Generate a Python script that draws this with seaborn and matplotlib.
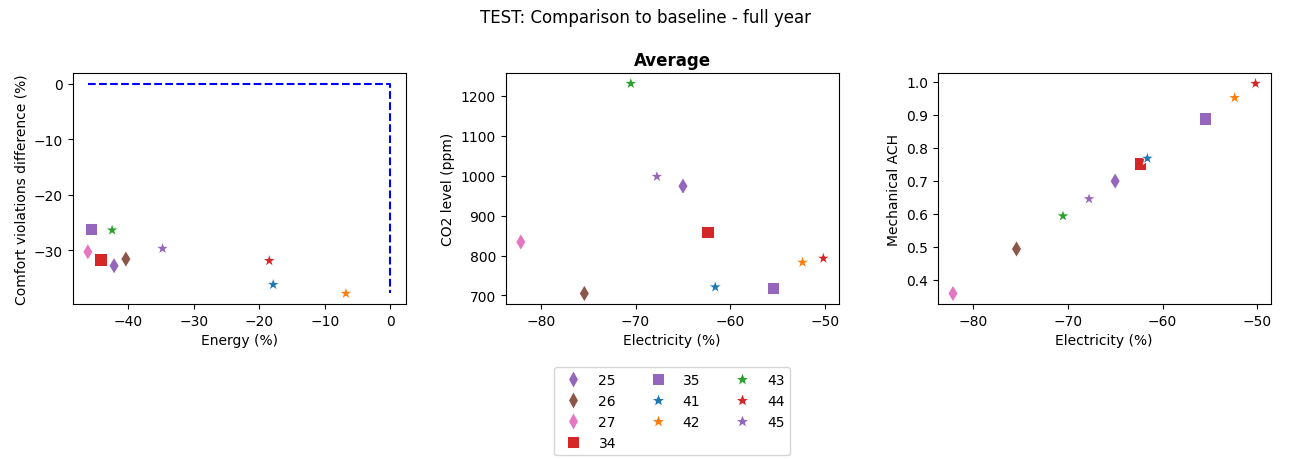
import numpy as np
import pandas as pd
import matplotlib
matplotlib.use("Agg")
import matplotlib.pyplot as plt
import seaborn as sns

# --- values ---
cases = ["25", "26", "27", "34", "35", "41", "42", "43", "44", "45"]
energy = [-42.2, -40.4, -46.2, -44.3, -45.7, -17.9, -6.8, -42.5, -18.5, -34.8]
comfort = [-32.8, -31.6, -30.3, -31.7, -26.2, -36.2, -37.8, -26.4, -31.9, -29.7]
electricity = [-65.0, -75.4, -82.1, -62.4, -55.5, -61.6, -52.4, -70.5, -50.2, -67.75]
co2 = [974, 705, 834, 859, 719, 721, 783, 1231, 793, 998]
ach = [0.699, 0.493, 0.358, 0.753, 0.889, 0.768, 0.952, 0.593, 0.995, 0.645]

colors = ["tab:purple", "tab:brown", "tab:pink", "tab:red", "tab:purple",
          "tab:blue", "tab:orange", "tab:green", "tab:red", "tab:purple"]
marks = ["d", "d", "d", "s", "s", "*", "*", "*", "*", "*"]
# stars look thin at equal area, so give them a bit more
marker_area = {"d": 75, "s": 80, "*": 105}

df = pd.DataFrame({"case": cases, "energy": energy, "comfort": comfort,
                   "electricity": electricity, "co2": co2, "ach": ach})
palette = dict(zip(cases, colors))
markers = dict(zip(cases, marks))
sizes = {c: marker_area[m] for c, m in zip(cases, marks)}

fig = plt.figure(figsize=(12.9, 4.6), dpi=100)
w, h, b = 0.258, 0.502, 0.337
ax1 = fig.add_axes([0.0564, b, w, h])
ax2 = fig.add_axes([0.392, b, w, h])
ax3 = fig.add_axes([0.727, b, w, h])

common = dict(data=df, hue="case", style="case", size="case",
              palette=palette, markers=markers, sizes=sizes,
              hue_order=cases, style_order=cases, size_order=cases)

# energy vs comfort, with baseline box
sns.scatterplot(x="energy", y="comfort", ax=ax1, legend=False, **common)
ax1.plot([df["energy"].min(), 0, 0], [0, 0, df["comfort"].min()], "b--")
ax1.set_xlabel("Energy (%)")
ax1.set_ylabel("Comfort violations difference (%)")

sns.scatterplot(x="electricity", y="co2", ax=ax2, **common)
ax2.set_xlabel("Electricity (%)")
ax2.set_ylabel("CO2 level (ppm)")
ax2.set_title("Average", fontweight="bold")
sns.move_legend(ax2, "upper center", bbox_to_anchor=(0.5, -0.245), ncol=3)
ax2.get_legend().set_title("")

sns.scatterplot(x="electricity", y="ach", ax=ax3, legend=False, **common)
ax3.set_xlabel("Electricity (%)")
ax3.set_ylabel("Mechanical ACH")

fig.suptitle("TEST: Comparison to baseline - full year")
fig.savefig("out.png", dpi=100)
